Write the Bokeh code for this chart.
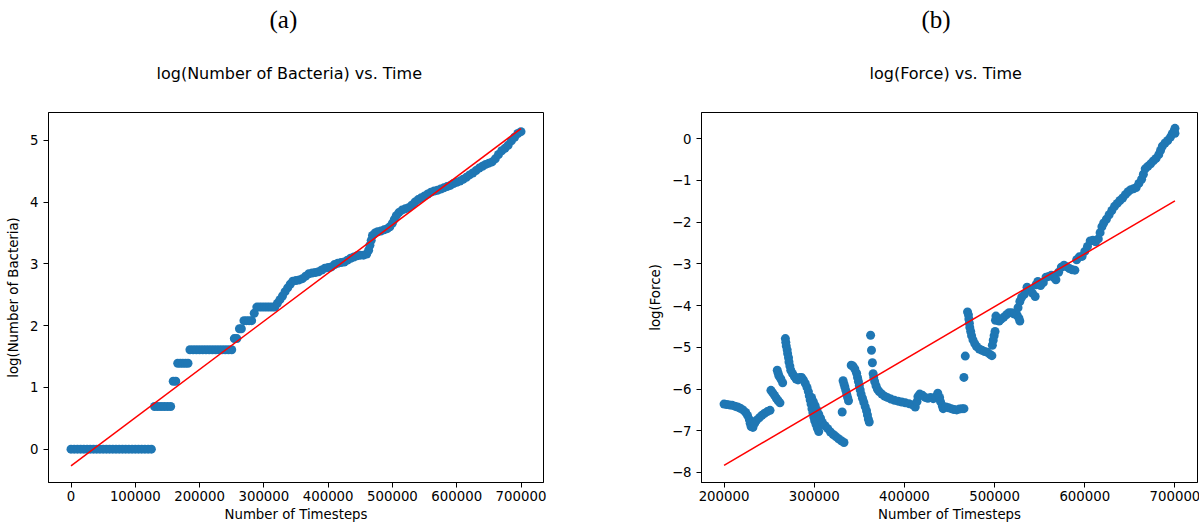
from bokeh.plotting import figure
from bokeh.layouts import row
from bokeh.models import Range1d, FixedTicker, Title
from bokeh.embed import file_html
from bokeh.resources import INLINE

# ---------------- panel (a): log(Number of Bacteria) ----------------
bact_t_k = [0, 5, 10, 15, 20, 25, 30, 35, 40, 45, 50, 55, 60, 65, 70, 75, 80, 85, 90, 95,
            100, 105, 110, 115, 120, 125,
            130, 135, 140, 145, 150, 155,
            159, 163,
            166, 170, 174, 178, 182,
            185, 190, 195, 200, 205, 210, 215, 220, 225, 230, 235, 240, 245, 250,
            254, 258,
            262, 265,
            269, 273, 277, 281,
            285,
            289, 293, 297, 301, 305, 309, 313, 317,
            321, 325, 329, 333, 337, 341, 345,
            350, 355, 360, 365, 370, 375, 380, 385, 390, 395, 400, 405, 410, 415, 420, 425,
            430, 435, 440, 445, 450, 455, 460,
            463, 465, 467, 469, 473, 477, 482, 487, 492, 496, 500, 503, 506,
            510, 515, 520, 525, 530, 535, 540, 545, 550, 555, 560, 565, 570, 575, 580, 585,
            590, 595, 600, 605, 610, 615, 620, 625, 630, 635, 640, 645, 650, 655, 660, 665,
            670, 675, 680, 685, 690, 695, 700]
bact_log = [0.0, 0.0, 0.0, 0.0, 0.0, 0.0, 0.0, 0.0, 0.0, 0.0, 0.0, 0.0, 0.0, 0.0, 0.0, 0.0, 0.0, 0.0, 0.0, 0.0,
            0.0, 0.0, 0.0, 0.0, 0.0, 0.0,
            0.69, 0.69, 0.69, 0.69, 0.69, 0.69,
            1.10, 1.10,
            1.39, 1.39, 1.39, 1.39, 1.39,
            1.61, 1.61, 1.61, 1.61, 1.61, 1.61, 1.61, 1.61, 1.61, 1.61, 1.61, 1.61, 1.61, 1.61,
            1.79, 1.79,
            1.95, 1.95,
            2.08, 2.08, 2.08, 2.08,
            2.20,
            2.30, 2.30, 2.30, 2.30, 2.30, 2.30, 2.30, 2.30,
            2.36, 2.42, 2.48, 2.55, 2.61, 2.67, 2.72,
            2.73, 2.74, 2.76, 2.80, 2.84, 2.85, 2.86, 2.87, 2.90, 2.93, 2.94, 2.95, 2.99, 3.01, 3.02, 3.03,
            3.06, 3.09, 3.11, 3.13, 3.14, 3.14, 3.16,
            3.22, 3.30, 3.38, 3.46, 3.50, 3.52, 3.53, 3.55, 3.57, 3.60, 3.66, 3.72, 3.78,
            3.83, 3.87, 3.89, 3.91, 3.95, 4.00, 4.04, 4.07, 4.10, 4.13, 4.16, 4.18, 4.19, 4.21, 4.23, 4.25,
            4.27, 4.30, 4.32, 4.34, 4.37, 4.40, 4.44, 4.47, 4.51, 4.55, 4.58, 4.61, 4.63, 4.65, 4.70, 4.77,
            4.83, 4.87, 4.92, 4.99, 5.05, 5.11, 5.14]
bact_fit_t = [0, 700000]
bact_fit_log = [-0.27, 5.19]
bact_xticks = [0, 100000, 200000, 300000, 400000, 500000, 600000, 700000]
bact_yticks = [0, 1, 2, 3, 4, 5]

# ---------------- panel (b): log(Force) ----------------
force_t_k = (
    [200, 203, 206, 209, 212, 215, 218, 221, 224, 226, 228, 229, 230, 232, 234, 236, 239, 242, 245, 248, 251]
    + [252, 254, 256, 258, 260, 262]
    + [259, 260, 261, 263, 265]
    + [268, 268.5, 269, 270, 270.5, 271.5, 272, 273, 274,
       276, 278, 280, 282, 284, 286, 288, 290, 292,
       293.5, 294.5, 295.5, 296.5, 297.5, 298.5, 299.5, 300.5,
       302, 303.5, 305]
    + [297, 299, 301, 303, 305, 307, 309, 312, 315, 318, 321, 324, 327, 330, 333]
    + [331]
    + [332, 333, 334, 335, 336, 337, 338]
    + [341, 343, 345, 347, 348, 349, 350, 351, 352, 353.5, 355, 356.5, 358, 359, 360, 361]
    + [362.5, 363.5, 364.5, 365.3]
    + [366, 367, 368.5, 370, 372, 375, 378, 381, 385, 389,
       393, 397, 401, 405, 409, 412, 414, 415, 417, 420,
       423, 426, 429, 432, 435, 437, 439, 440, 442, 443,
       446, 449, 452, 455, 458, 461, 464, 466]
    + [466, 467.5]
    + [470, 471, 471.5, 472, 472.5, 473.5, 474.5, 476, 478, 480, 483, 486, 489, 492, 495, 497]
    + [497.5, 498.5, 499.5, 500.5, 501, 501.5, 503, 505, 507, 510,
       513, 516, 519, 522, 525, 527, 528, 526, 528, 530,
       533, 536, 539, 542, 545, 546, 548, 551, 554, 557,
       560, 563, 566, 568, 571, 574, 577, 580, 583, 586,
       589, 591, 594, 597, 600, 603, 606, 609, 612, 615,
       617, 619, 621, 624, 627, 630, 633, 636, 639, 642,
       645, 648, 651, 654, 657, 660, 663, 665, 667, 670,
       673, 676, 679, 682, 684, 686, 689, 692, 695, 697,
       699, 700, 700]
)
force_log = (
    [-6.36, -6.37, -6.38, -6.39, -6.41, -6.43, -6.46, -6.50, -6.56, -6.63, -6.73, -6.82, -6.90, -6.92,
     -6.82, -6.75, -6.69, -6.63, -6.58, -6.54, -6.51]
    + [-6.03, -6.09, -6.15, -6.22, -6.28, -6.33]
    + [-5.55, -5.62, -5.69, -5.76, -5.85]
    + [-4.79, -4.88, -4.97, -5.06, -5.15, -5.25, -5.35, -5.45, -5.55,
       -5.63, -5.70, -5.76, -5.78, -5.72, -5.72, -5.78, -5.86, -5.96,
       -6.06, -6.16, -6.26, -6.36, -6.47, -6.57, -6.67, -6.76,
       -6.85, -6.94, -7.02]
    + [-6.20, -6.30, -6.40, -6.50, -6.60, -6.70, -6.80, -6.88, -6.95, -7.03, -7.09, -7.14, -7.19, -7.24, -7.28]
    + [-6.55]
    + [-5.80, -5.88, -5.95, -6.03, -6.12, -6.20, -6.28]
    + [-5.43, -5.45, -5.52, -5.62, -5.72, -5.82, -5.92, -6.02, -6.12, -6.22, -6.32, -6.42, -6.52, -6.62, -6.72, -6.79]
    + [-4.71, -5.07, -5.37, -5.63]
    + [-5.72, -5.82, -5.92, -6.00, -6.06, -6.12, -6.17, -6.20, -6.24, -6.27,
       -6.29, -6.31, -6.33, -6.35, -6.38, -6.43, -6.30, -6.18, -6.12, -6.15,
       -6.20, -6.22, -6.20, -6.23, -6.18, -6.10, -6.20, -6.30, -6.40, -6.47,
       -6.43, -6.45, -6.47, -6.49, -6.50, -6.48, -6.47, -6.47]
    + [-5.72, -5.21]
    + [-4.15, -4.22, -4.32, -4.42, -4.52, -4.62, -4.72, -4.82, -4.91, -4.98, -5.04, -5.07, -5.10, -5.12, -5.17, -5.20]
    + [-4.95, -4.83, -4.72, -4.62, -4.35, -4.25, -4.32, -4.37, -4.33, -4.28,
       -4.22, -4.17, -4.17, -4.20, -4.23, -4.30, -4.37, -4.05, -3.90, -3.80,
       -3.73, -3.56, -3.62, -3.70, -3.78, -3.50, -3.42, -3.52, -3.45, -3.32,
       -3.30, -3.27, -3.33, -3.38, -3.20, -3.08, -3.03, -3.07, -3.11, -3.14,
       -3.15, -2.90, -2.83, -2.82, -2.70, -2.58, -2.45, -2.43, -2.47, -2.40,
       -2.25, -2.11, -2.02, -1.93, -1.82, -1.72, -1.62, -1.55, -1.48, -1.42,
       -1.34, -1.27, -1.22, -1.20, -1.17, -1.07, -0.97, -0.85, -0.72, -0.66,
       -0.60, -0.53, -0.47, -0.38, -0.28, -0.18, -0.10, -0.04, 0.04, 0.12,
       0.18, 0.25, 0.13]
)
force_fit_t = [200000, 700000]
force_fit_log = [-7.83, -1.49]
force_xticks = [200000, 300000, 400000, 500000, 600000, 700000]
force_yticks = [-8, -7, -6, -5, -4, -3, -2, -1, 0]

bact_t = [v * 1000 for v in bact_t_k]
force_t = [v * 1000 for v in force_t_k]

DOT = "#1f77b4"
SANS = "DejaVu Sans"
SERIF = "Liberation Serif"


def style(p, xticks, yticks, xlabel, ylabel):
    p.outline_line_color = "black"
    p.outline_line_width = 1
    p.xgrid.visible = False
    p.ygrid.visible = False
    p.background_fill_color = "white"
    p.border_fill_color = "white"
    for ax in (p.xaxis[0], p.yaxis[0]):
        ax.axis_line_color = "black"
        ax.major_tick_line_color = "black"
        ax.major_tick_out = 5
        ax.major_tick_in = 0
        ax.minor_tick_line_color = None
        ax.major_label_text_font = SANS
        ax.major_label_text_font_size = "13.3px"
        ax.major_label_text_color = "black"
        ax.axis_label_text_font = SANS
        ax.axis_label_text_font_size = "13.3px"
        ax.axis_label_text_font_style = "normal"
        ax.axis_label_text_color = "black"
    p.xaxis[0].ticker = FixedTicker(ticks=xticks)
    p.yaxis[0].ticker = FixedTicker(ticks=yticks)
    p.xaxis[0].major_label_overrides = {t: str(t) for t in xticks}
    p.yaxis[0].major_label_overrides = {t: str(t).replace("-", "\u2212") for t in yticks}
    p.xaxis[0].axis_label = xlabel
    p.yaxis[0].axis_label = ylabel
    p.xaxis[0].major_label_standoff = 3
    p.xaxis[0].axis_label_standoff = 3
    p.yaxis[0].major_label_standoff = 5
    p.yaxis[0].axis_label_standoff = 6


def titles(p, letter, text, letter_offset, text_offset):
    # closest to the frame first
    p.add_layout(Title(text=text, text_font=SANS, text_font_size="16px", text_font_style="normal",
                       text_color="black", align="left", vertical_align="middle",
                       offset=text_offset, standoff=58), "above")
    p.add_layout(Title(text=letter, text_font=SERIF, text_font_size="25px", text_font_style="normal",
                       text_color="black", align="left", vertical_align="middle",
                       offset=letter_offset, standoff=0), "above")


FH = 370
# ---- figure (a)
pa = figure(frame_width=495, frame_height=FH, min_border_left=48, min_border_right=101,
            min_border_top=112, min_border_bottom=42,
            x_range=Range1d(-35000, 735000), y_range=Range1d(-0.54, 5.45),
            output_backend="svg", toolbar_location=None)
style(pa, bact_xticks, bact_yticks, "Number of Timesteps", "log(Number of Bacteria)")
pa.scatter(bact_t, bact_log, size=9, fill_color=DOT, line_color=None)
pa.line(bact_fit_t, bact_fit_log, line_color="red", line_width=1.5)
titles(pa, "(a)", "log(Number of Bacteria) vs. Time", 221, 108)

# ---- figure (b)
pb = figure(frame_width=496, frame_height=FH, min_border_left=54, min_border_right=3,
            min_border_top=112, min_border_bottom=42,
            x_range=Range1d(175000, 725000), y_range=Range1d(-8.24, 0.63),
            output_backend="svg", toolbar_location=None)
style(pb, force_xticks, force_yticks, "Number of Timesteps", "log(Force)")
pb.scatter(force_t, force_log, size=9, fill_color=DOT, line_color=None)
pb.line(force_fit_t, force_fit_log, line_color="red", line_width=1.5)
titles(pb, "(b)", "log(Force) vs. Time", 220, 168)

layout = row(pa, pb)
open("out.html", "w").write(file_html(layout, INLINE))
